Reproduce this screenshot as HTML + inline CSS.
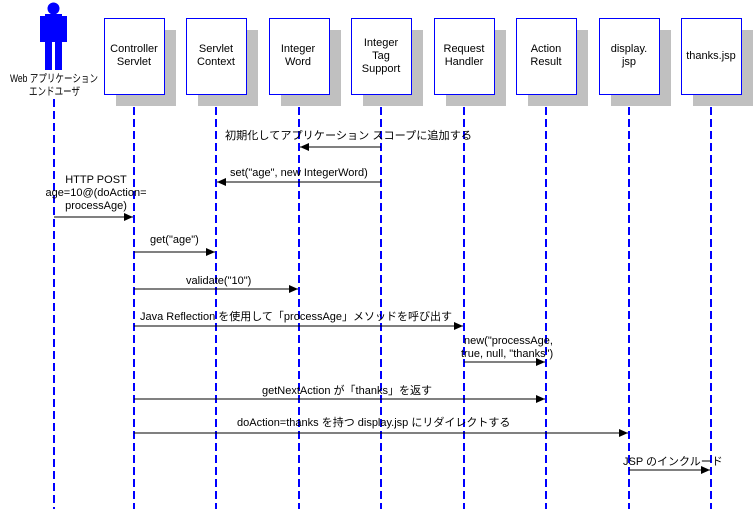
<!DOCTYPE html>
<html><head><meta charset="utf-8"><style>
body{margin:0;background:#fff}
svg text{font-family:"Liberation Sans","Noto Sans CJK JP",sans-serif;font-size:11px;fill:#000}
</style></head><body>
<svg width="754" height="509" viewBox="0 0 754 509" xmlns="http://www.w3.org/2000/svg">
<defs><marker id="a" markerWidth="10" markerHeight="10" refX="9" refY="4" orient="auto" markerUnits="userSpaceOnUse"><path d="M0,0 L9,4 L0,8 z" fill="#000"/></marker></defs>
<g fill="#0000ff">
<circle cx="53.5" cy="8.5" r="6"/>
<rect x="45" y="14" width="17" height="28"/>
<rect x="40" y="16" width="6" height="26"/>
<rect x="61" y="16" width="6" height="26"/>
<rect x="45" y="40" width="7" height="30"/>
<rect x="55" y="40" width="7" height="30"/>
</g>
<text x="10" y="82" textLength="88" lengthAdjust="spacingAndGlyphs">Web アプリケーション</text>
<text x="29" y="95" textLength="51" lengthAdjust="spacingAndGlyphs">エンドユーザ</text>
<g stroke="#0000ff" stroke-width="2" stroke-dasharray="8,4" fill="none" shape-rendering="crispEdges">
<line x1="54" y1="99" x2="54" y2="509"/>
<line x1="134" y1="95" x2="134" y2="509"/>
<line x1="216" y1="95" x2="216" y2="509"/>
<line x1="299" y1="95" x2="299" y2="509"/>
<line x1="381" y1="95" x2="381" y2="509"/>
<line x1="464" y1="95" x2="464" y2="509"/>
<line x1="546" y1="95" x2="546" y2="509"/>
<line x1="629" y1="95" x2="629" y2="509"/>
<line x1="711" y1="95" x2="711" y2="509"/>
</g>
<g fill="#c0c0c0">
<rect x="116" y="30" width="60" height="76"/>
<rect x="198" y="30" width="60" height="76"/>
<rect x="281" y="30" width="60" height="76"/>
<rect x="363" y="30" width="60" height="76"/>
<rect x="446" y="30" width="60" height="76"/>
<rect x="528" y="30" width="60" height="76"/>
<rect x="611" y="30" width="60" height="76"/>
<rect x="693" y="30" width="60" height="76"/>
</g>
<g fill="#fff" stroke="#0000ff" stroke-width="1">
<rect x="104.5" y="18.5" width="60" height="76"/>
<rect x="186.5" y="18.5" width="60" height="76"/>
<rect x="269.5" y="18.5" width="60" height="76"/>
<rect x="351.5" y="18.5" width="60" height="76"/>
<rect x="434.5" y="18.5" width="60" height="76"/>
<rect x="516.5" y="18.5" width="60" height="76"/>
<rect x="599.5" y="18.5" width="60" height="76"/>
<rect x="681.5" y="18.5" width="60" height="76"/>
</g>
<g text-anchor="middle">
<text x="134" y="52">Controller</text><text x="134" y="65">Servlet</text>
<text x="216" y="52">Servlet</text><text x="216" y="65">Context</text>
<text x="298" y="52">Integer</text><text x="298" y="65">Word</text>
<text x="381" y="46">Integer</text><text x="381" y="59">Tag</text><text x="381" y="72">Support</text>
<text x="464" y="52">Request</text><text x="464" y="65">Handler</text>
<text x="546" y="52">Action</text><text x="546" y="65">Result</text>
<text x="629" y="52">display.</text><text x="629" y="65">jsp</text>
<text x="711" y="59">thanks.jsp</text>
</g>
<g stroke="#000" stroke-width="1" marker-end="url(#a)">
<line x1="381" y1="147" x2="300" y2="147"/>
<line x1="381" y1="182" x2="217" y2="182"/>
<line x1="54" y1="217" x2="133" y2="217"/>
<line x1="134" y1="252" x2="215" y2="252"/>
<line x1="134" y1="289" x2="298" y2="289"/>
<line x1="134" y1="326" x2="463" y2="326"/>
<line x1="464" y1="362" x2="545" y2="362"/>
<line x1="134" y1="399" x2="545" y2="399"/>
<line x1="134" y1="433" x2="628" y2="433"/>
<line x1="629" y1="470" x2="710" y2="470"/>
</g>
<text x="225" y="139" textLength="247" lengthAdjust="spacingAndGlyphs">初期化してアプリケーション  スコープに追加する</text>
<text x="230" y="176">set("age", new IntegerWord)</text>
<text x="96" y="183" text-anchor="middle">HTTP POST</text>
<text x="96" y="196" text-anchor="middle">age=10@(doAction=</text>
<text x="96" y="209" text-anchor="middle">processAge)</text>
<text x="150" y="243">get("age")</text>
<text x="186" y="284">validate("10")</text>
<text x="140" y="320">Java Reflection を使用して「processAge」メソッドを呼び出す</text>
<text x="464" y="344">new("processAge,</text>
<text x="461" y="357">true, null, "thanks")</text>
<text x="262" y="394">getNextAction が「thanks」を返す</text>
<text x="237" y="426">doAction=thanks を持つ display.jsp にリダイレクトする</text>
<text x="623" y="465">JSP のインクルード</text>
</svg>
</body></html>
